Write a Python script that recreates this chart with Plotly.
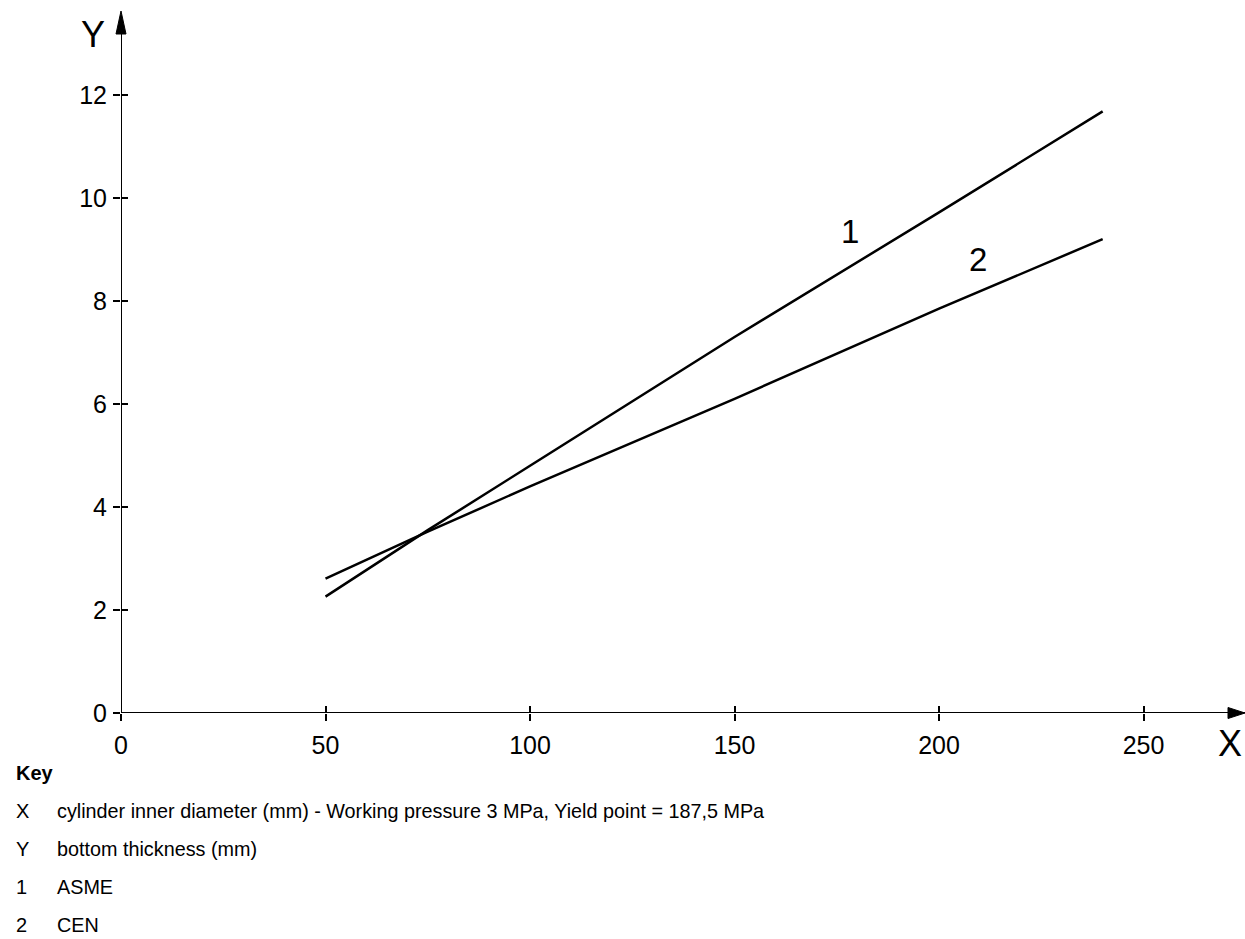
import plotly.graph_objects as go

# ---- data ----
diameter = [50, 75, 100, 150, 200, 240]
asme = [2.26, 3.55, 4.8, 7.3, 9.72, 11.68]
cen = [2.61, 3.52, 4.4, 6.1, 7.85, 9.2]
x_ticks = [0, 50, 100, 150, 200, 250]
y_ticks = [0, 2, 4, 6, 8, 10, 12]
key_rows = [
    ("X", "cylinder inner diameter (mm) - Working pressure 3 MPa, Yield point = 187,5 MPa"),
    ("Y", "bottom thickness (mm)"),
    ("1", "ASME"),
    ("2", "CEN"),
]

W, H = 1245, 939
L, R, T, B = 121, 0, 11, 226
XMAX = 274.8
YMAX = 13.63
FONT = "Liberation Sans, Arial, sans-serif"

fig = go.Figure()
fig.add_trace(go.Scatter(x=diameter, y=asme, mode="lines", line=dict(color="black", width=2.5),
                         name="ASME", showlegend=False, hoverinfo="skip"))
fig.add_trace(go.Scatter(x=diameter, y=cen, mode="lines", line=dict(color="black", width=2.5),
                         name="CEN", showlegend=False, hoverinfo="skip"))
# dummy trace for the second (inside ticks) axes
fig.add_trace(go.Scatter(x=[None], y=[None], xaxis="x2", yaxis="y2", showlegend=False, hoverinfo="skip"))

axis_common = dict(showgrid=False, zeroline=False, showline=False, automargin=False,
                   tickcolor="black", tickwidth=2, ticklen=7,
                   tickfont=dict(family=FONT, size=25, color="black"))

fig.update_layout(
    width=W, height=H,
    margin=dict(l=L, r=R, t=T, b=B, autoexpand=False),
    plot_bgcolor="white", paper_bgcolor="white",
    xaxis=dict(range=[0, XMAX], tickvals=x_ticks, ticks="outside", ticklabelstandoff=3, **axis_common),
    yaxis=dict(range=[0, YMAX], tickvals=y_ticks, ticks="outside", ticklabelstandoff=1, **axis_common),
    xaxis2=dict(range=[0, XMAX], tickvals=x_ticks, ticks="inside", showticklabels=False,
                overlaying="x", anchor="y2", showgrid=False, zeroline=False,
                tickcolor="black", tickwidth=2, ticklen=7),
    yaxis2=dict(range=[0, YMAX], tickvals=y_ticks, ticks="inside", showticklabels=False,
                overlaying="y", anchor="x2", side="left", showgrid=False, zeroline=False,
                tickcolor="black", tickwidth=2, ticklen=7),
)

# axis lines
fig.add_shape(type="line", x0=0, y0=0, x1=XMAX, y1=0, xref="x", yref="y",
              line=dict(color="black", width=2))
fig.add_shape(type="line", x0=0, y0=0, x1=0, y1=YMAX - 0.2, xref="x", yref="y",
              line=dict(color="black", width=2))
# arrowheads (pixel-sized, anchored to plot-area edges)
fig.add_shape(type="path", xref="paper", yref="paper", xsizemode="pixel", ysizemode="pixel",
              xanchor=0, yanchor=1, path="M0,0 L-5,-23 L5,-23 Z",
              fillcolor="black", line=dict(color="black", width=1))
fig.add_shape(type="path", xref="paper", yref="paper", xsizemode="pixel", ysizemode="pixel",
              xanchor=1, yanchor=0, path="M0,0 L-17,5.5 L-17,-5.5 Z",
              fillcolor="black", line=dict(color="black", width=1))


def px_to_paper(px, py):
    return (px - L) / (W - L - R), (H - B - py) / (H - T - B)


# axis letters
yx, yy = px_to_paper(93, 35)
fig.add_annotation(x=yx, y=yy, xref="paper", yref="paper", xanchor="center", yanchor="middle",
                   text="Y", showarrow=False, font=dict(family=FONT, size=36, color="black"))
xx, xy = px_to_paper(1230, 743)
fig.add_annotation(x=xx, y=xy, xref="paper", yref="paper", xanchor="center", yanchor="middle",
                   text="X", showarrow=False, font=dict(family=FONT, size=36, color="black"))
# curve labels
fig.add_annotation(x=178.3, y=9.35, xref="x", yref="y", text="1", showarrow=False,
                   font=dict(family=FONT, size=33, color="black"))
fig.add_annotation(x=209.6, y=8.8, xref="x", yref="y", text="2", showarrow=False,
                   font=dict(family=FONT, size=33, color="black"))

# key
kx, ky = px_to_paper(14, 773)
fig.add_annotation(x=kx, y=ky, xref="paper", yref="paper", xanchor="left", yanchor="middle",
                   text="<b>Key</b>", showarrow=False, font=dict(family=FONT, size=20, color="black"))
row_y = [811, 849, 887, 925]
for (sym, desc), py in zip(key_rows, row_y):
    sx, sy = px_to_paper(14, py)
    dx, _ = px_to_paper(55, py)
    fig.add_annotation(x=sx, y=sy, xref="paper", yref="paper", xanchor="left", yanchor="middle",
                       text=sym, showarrow=False, font=dict(family=FONT, size=20, color="black"))
    fig.add_annotation(x=dx, y=sy, xref="paper", yref="paper", xanchor="left", yanchor="middle",
                       text=desc, showarrow=False, font=dict(family=FONT, size=19.8, color="black"))

fig.write_html("out.html", config={"displayModeBar": False},
               post_script="document.body.style.margin='0px';document.body.style.overflow='hidden';")
